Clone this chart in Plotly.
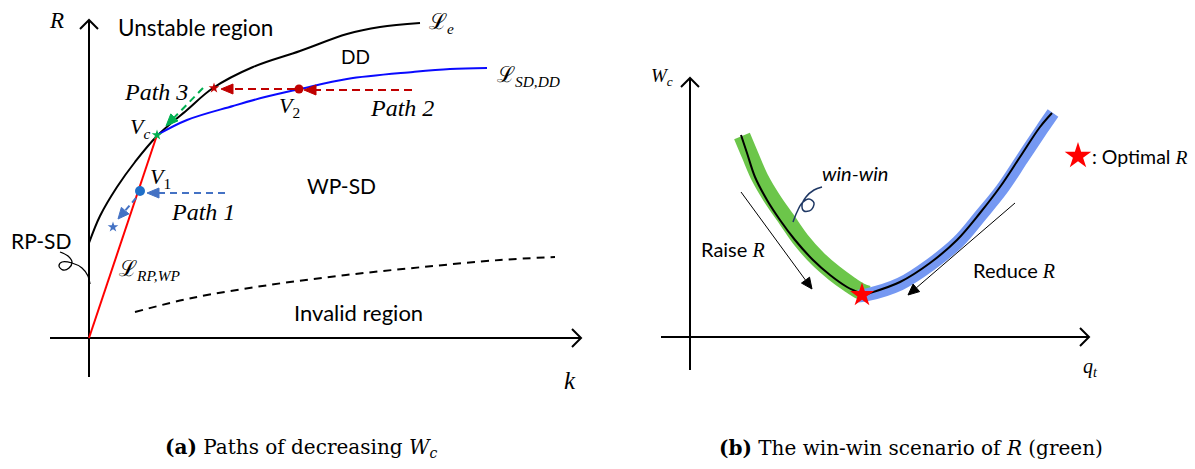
import numpy as np
import plotly.graph_objects as go

FIG_W, FIG_H = 1195, 469
SPLIT = 600  # left panel width in px

# ---------------- Panel (a): k–R plane (origin at the axis crossing) ----------------
le_k = [0, 11, 28, 46, 68, 98, 124, 164, 211, 258, 291, 331]
le_r = [95, 122, 151, 176, 202, 228, 250, 271, 287, 304, 311, 315]

sd_k = [68, 98, 144, 176, 211, 258, 324, 361, 398]
sd_r = [203, 218, 232, 241, 249, 259, 266, 269, 270]

rp_k = [0, 68]
rp_r = [0, 203]

inv_k = [46, 103, 180, 257, 334, 411, 466]
inv_r = [26, 40, 53, 63, 71, 78, 81]

vc = (68, 203)        # V_c
v1 = (51, 147)        # V_1
v2 = (210, 249)       # V_2
star_p1 = (24, 111)   # end of path 1
star_p2 = (125, 250)  # end of path 2

# dashed paths: (start, tip)
path1a = ((136, 145), (58, 145))
path1b = ((47, 140), (29, 119))
path2a = ((323, 248), (215, 248))
path2b = ((206, 249), (132, 249))
path3 = ((114, 250), (77, 212))

swoosh_k = [-29, -21, -17, -20, -26, -30, -27, -17, -7, -1, 1]
swoosh_r = [86, 82, 76, 70, 68, 72, 76, 75, 70, 62, 54]

# ---------------- Panel (b): q_t–W_c plane ----------------
wc_q = [51, 57, 65, 77, 90, 105, 123, 140, 157, 167, 172, 180, 210, 240, 267, 290, 310, 330, 350, 362]
wc_w = [202, 184, 160, 137, 117, 97, 77, 62, 50, 45, 42, 44, 55, 74, 97, 124, 150, 180, 210, 224]

green_q = [52, 60, 70, 83, 97, 111, 128, 144, 159, 170, 178]
green_w = [201, 182, 159, 137, 117, 97, 78, 64, 53, 46, 43]

blue_q = [168, 176, 210, 240, 268, 291, 312, 332, 352, 363]
blue_w = [41, 42, 53, 72, 95, 122, 148, 178, 208, 224]

opt_point = (172, 42)
legend_star = (388, 181)

raise_arrow = ((51, 145), (122, 48))
reduce_arrow = ((325, 134), (218, 42))

curl_q = [132, 124, 116, 112, 114, 121, 124, 119, 112, 107, 103]
curl_w = [150, 147, 140, 132, 126, 127, 134, 138, 134, 125, 115]

fig = go.Figure()

AX_A = dict(xaxis="x", yaxis="y")
AX_B = dict(xaxis="x2", yaxis="y2")


def line(xs, ys, color, width=2, dash=None, shape="linear", ax=AX_A, smoothing=1.0):
    fig.add_trace(go.Scatter(
        x=xs, y=ys, mode="lines",
        line=dict(color=color, width=width, dash=dash, shape=shape,
                  smoothing=smoothing if shape == "spline" else None),
        hoverinfo="skip", showlegend=False, **ax))


def head(tip, direction, color, length=12, half=5, ax=AX_A):
    u = np.asarray(direction, float)
    u = u / np.hypot(*u)
    p = np.array([-u[1], u[0]])
    t = np.asarray(tip, float)
    b = t - u * length
    pts = np.array([t, b + p * half, b - p * half, t])
    fig.add_trace(go.Scatter(
        x=pts[:, 0], y=pts[:, 1], mode="lines", fill="toself",
        fillcolor=color, line=dict(color=color, width=1),
        hoverinfo="skip", showlegend=False, **ax))
    return b


def arrow(seg, color, width=2, dash=None, length=12, half=5, ax=AX_A):
    (x0, y0), (x1, y1) = seg
    base = head((x1, y1), (x1 - x0, y1 - y0), color, length, half, ax)
    line([x0, base[0]], [y0, base[1]], color, width, dash, ax=ax)


def chevron(tip, direction, size=9, ax=AX_A, width=2):
    u = np.asarray(direction, float)
    u = u / np.hypot(*u)
    p = np.array([-u[1], u[0]])
    t = np.asarray(tip, float)
    a = t - u * size + p * size
    c = t - u * size - p * size
    line([a[0], t[0], c[0]], [a[1], t[1], c[1]], "black", width, ax=ax)


def point(pt, symbol, size, color, ax=AX_A):
    fig.add_trace(go.Scatter(
        x=[pt[0]], y=[pt[1]], mode="markers",
        marker=dict(symbol=symbol, size=size, color=color, line=dict(width=0)),
        cliponaxis=False, hoverinfo="skip", showlegend=False, **ax))


# ---- panel (a) axes
line([0, 0], [-39, 318], "black", 2)
chevron((0, 318), (0, 1))
line([-39, 492], [0, 0], "black", 2)
chevron((492, 0), (1, 0))

# ---- panel (a) curves
line(inv_k, inv_r, "black", 2, dash="8px,6px", shape="spline")
line(le_k, le_r, "black", 2, shape="spline")
line(sd_k, sd_r, "#0A0AFF", 2, shape="spline")
line(rp_k, rp_r, "#FF0000", 2)
line(swoosh_k, swoosh_r, "black", 1.3, shape="spline")

# ---- panel (a) paths
arrow(path1a, "#4472C4", 2, dash="7px,5px", length=12, half=5)
arrow(path1b, "#4472C4", 2, dash="6px,4px", length=11, half=5)
arrow(path2a, "#C00000", 2, dash="8px,5px", length=12, half=5)
arrow(path2b, "#C00000", 2, dash="8px,5px", length=12, half=5)
arrow(path3, "#00B050", 2, dash="7px,5px", length=12, half=5)

point(v1, "circle", 10, "#1F6FC8")
point(v2, "circle", 9, "#C00000")
point(vc, "star", 8, "#00B050")
point(star_p1, "star", 8, "#4472C4")
point(star_p2, "star", 8, "#C00000")

# ---- panel (b) axes
line([0, 0], [-33, 259], "black", 2, ax=AX_B)
chevron((0, 259), (0, 1), ax=AX_B)
line([-29, 399], [0, 0], "black", 2, ax=AX_B)
chevron((399, 0), (1, 0), ax=AX_B)

# ---- panel (b) curve with win-win (green) and other (blue) bands
line(green_q, green_w, "#6CC64A", 17, shape="spline", ax=AX_B)
line(blue_q, blue_w, "#7598F2", 13, shape="spline", ax=AX_B)
line(wc_q, wc_w, "black", 2, shape="spline", ax=AX_B)
line(curl_q, curl_w, "#1F3864", 1.5, shape="spline", ax=AX_B)

arrow(raise_arrow, "black", 1, length=11, half=5, ax=AX_B)
arrow(reduce_arrow, "black", 1, length=11, half=5, ax=AX_B)

point(opt_point, "star", 18, "#FF0000", ax=AX_B)
point(legend_star, "star", 20, "#FF0000", ax=AX_B)

# ---- text
SANS = "Lato"
SERIF = "Liberation Serif"
CAPTION = "DejaVu Serif"
anns = []


def txt(x, y, s, size, family, ax="a", xanchor="center", italic=False):
    anns.append(dict(
        x=x, y=y, text=s, showarrow=False, xanchor=xanchor, yanchor="middle",
        xref="x" if ax == "a" else "x2", yref="y" if ax == "a" else "y2",
        font=dict(size=size, family=family, color="black",
                  style="italic" if italic else "normal")))


RI = '<span style="font-family:Liberation Serif"><i>R</i></span>'

txt(-33, 318, "<i>R</i>", 23, SERIF, italic=True)
txt(106, 311, "Unstable region", 22.5, SANS)
txt(352, 315, "ℒ<sub><i>e</i></sub>", 22, SERIF)
txt(266, 282, "DD", 19, SANS)
txt(439, 262, "ℒ<sub><i>SD,DD</i></sub>", 22, SERIF)
txt(67, 246, "<i>Path 3</i>", 24, SERIF)
txt(51, 210, "<i>V<sub>c</sub></i>", 22, SERIF)
txt(200, 231, "<i>V</i><sub>2</sub>", 22, SERIF)
txt(313, 230, "<i>Path 2</i>", 24, SERIF)
txt(71, 160, "<i>V</i><sub>1</sub>", 22, SERIF)
txt(252, 153, "WP-SD", 21, SANS)
txt(114, 126, "<i>Path 1</i>", 24, SERIF)
txt(-48, 98, "RP-SD", 21, SANS)
txt(60, 68, "ℒ<sub><i>RP,WP</i></sub>", 22, SERIF)
txt(269, 26, "Invalid region", 22, SANS)
txt(481, -42, "<i>k</i>", 25, SERIF)

txt(-28, 260, "<i>W<sub>c</sub></i>", 19, SERIF, ax="b")
txt(400, -30, "<i>q<sub>t</sub></i>", 20, SERIF, ax="b")
txt(43, 88, "Raise " + RI, 20, SANS, ax="b")
txt(324, 67, "Reduce " + RI, 20, SANS, ax="b")
txt(165, 164, "<i>win-win</i>", 20, SANS, ax="b")
txt(400, 181, ": Optimal " + RI, 19.5, SANS, ax="b", xanchor="left")

cap_y = (FIG_H - 448) / FIG_H
anns.append(dict(x=301 / FIG_W, y=cap_y, xref="paper", yref="paper", showarrow=False,
                 xanchor="center", yanchor="middle",
                 text="<b>(a)</b> Paths of decreasing <i>W<sub>c</sub></i>",
                 font=dict(size=20, family=CAPTION, color="black")))
anns.append(dict(x=911 / FIG_W, y=cap_y, xref="paper", yref="paper", showarrow=False,
                 xanchor="center", yanchor="middle",
                 text="<b>(b)</b> The win-win scenario of <i>R</i> (green)",
                 font=dict(size=20, family=CAPTION, color="black")))

hidden = dict(visible=False, showgrid=False, zeroline=False, fixedrange=True)
fig.update_layout(
    width=FIG_W, height=FIG_H,
    margin=dict(l=0, r=0, t=0, b=0),
    paper_bgcolor="white", plot_bgcolor="white",
    showlegend=False,
    xaxis=dict(domain=[0, SPLIT / FIG_W], range=[-89, SPLIT - 89], **hidden),
    yaxis=dict(domain=[0, 1], range=[338 - FIG_H, 338], **hidden),
    xaxis2=dict(domain=[SPLIT / FIG_W, 1], range=[SPLIT - 690, FIG_W - 690], anchor="y2", **hidden),
    yaxis2=dict(domain=[0, 1], range=[337 - FIG_H, 337], anchor="x2", **hidden),
    annotations=anns,
)

fig.write_html("out.html")
